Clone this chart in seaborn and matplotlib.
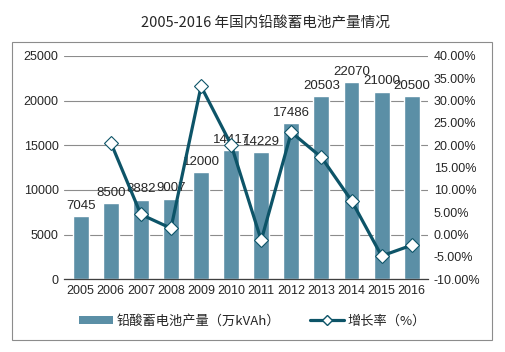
import numpy as np
import pandas as pd
import seaborn as sns
import matplotlib.pyplot as plt
from matplotlib.patches import Rectangle
from matplotlib.lines import Line2D
from matplotlib.patches import Patch

## data
years = ['2005', '2006', '2007', '2008', '2009', '2010',
         '2011', '2012', '2013', '2014', '2015', '2016']
output = [7045, 8500, 8882, 9007, 12000, 14417, 14229, 17486, 20503, 22070, 21000, 20500]
rate_years = ['2006', '2007', '2008', '2009', '2010', '2011',
              '2012', '2013', '2014', '2015', '2016']
rate = [20.6, 4.5, 1.4, 33.2, 20.1, -1.3, 22.9, 17.3, 7.6, -4.8, -2.4]
right_ticks = [-10, -5, 0, 5, 10, 15, 20, 25, 30, 35, 40]

sns.set_style('white')
plt.rcParams['font.family'] = ['Noto Sans CJK SC', 'DejaVu Sans']

bar_color = '#5b8fa6'
line_color = '#0d5468'
num_font = ['Liberation Sans', 'DejaVu Sans']

fig = plt.figure(figsize=(5.05, 3.52), dpi=100)
ax = fig.add_axes([0.127, 0.207, 0.721, 0.634])

df = pd.DataFrame({'year': years, 'output': output})
sns.barplot(data=df, x='year', y='output', color=bar_color, width=0.53,
            saturation=1, ax=ax)
ax.set_ylim(0, 25000)
ax.set_yticks(range(0, 25001, 5000))
ax.set_xlim(-0.55, 11.55)
ax.set_xlabel('')
ax.set_ylabel('')
ax.grid(axis='y', color='#8c8c8c', linewidth=0.8)
ax.set_axisbelow(True)
for s in ['top', 'right', 'left']:
    ax.spines[s].set_visible(False)
ax.spines['bottom'].set_color('#404040')
ax.spines['bottom'].set_linewidth(0.9)
ax.tick_params(axis='both', length=0, labelsize=9, colors='#262626', pad=4)
for lab in ax.get_xticklabels() + ax.get_yticklabels():
    lab.set_family(num_font)

# value labels above bars (some overlap in the original too)
for i, v in enumerate(output):
    ax.text(i, v + 500, str(v), ha='center', va='bottom', fontsize=9.5,
            color='#262626', family=num_font)

ax2 = ax.twinx()
xpos = [years.index(y) for y in rate_years]
ax2.plot(xpos, rate, color=line_color, linewidth=2.3, marker='D', markersize=7,
         markerfacecolor='white', markeredgecolor=line_color, markeredgewidth=0.8,
         zorder=5)
ax2.set_ylim(-10, 40)
ax2.set_yticks(right_ticks)
ax2.set_yticklabels([f'{t:.2f}%' for t in right_ticks], family=num_font)
ax2.tick_params(axis='y', length=0, labelsize=9, colors='#262626', pad=4)
for s in ['top', 'right', 'left', 'bottom']:
    ax2.spines[s].set_visible(False)

fig.text(0.525, 0.935, '2005-2016 年国内铅酸蓄电池产量情况', ha='center', va='center',
         fontsize=10.5, color='#262626')

fig.patches.append(Rectangle((12 / 505, 12 / 352), 480 / 505, 298 / 352,
                             transform=fig.transFigure, fill=False,
                             edgecolor='#8c8c8c', linewidth=0.8))

handles = [Patch(facecolor=bar_color, edgecolor='none'),
           Line2D([], [], color=line_color, linewidth=2.3, marker='D', markersize=5,
                  markerfacecolor='white', markeredgecolor=line_color)]
labels = ['铅酸蓄电池产量（万kVAh）', '增长率（%）']
fig.legend(handles, labels, loc='center', bbox_to_anchor=(0.5, 0.088), ncol=2,
           frameon=False, fontsize=9.5, handlelength=2.6, handleheight=0.6,
           columnspacing=2.2, handletextpad=0.3)

fig.savefig('out.png', dpi=100)
